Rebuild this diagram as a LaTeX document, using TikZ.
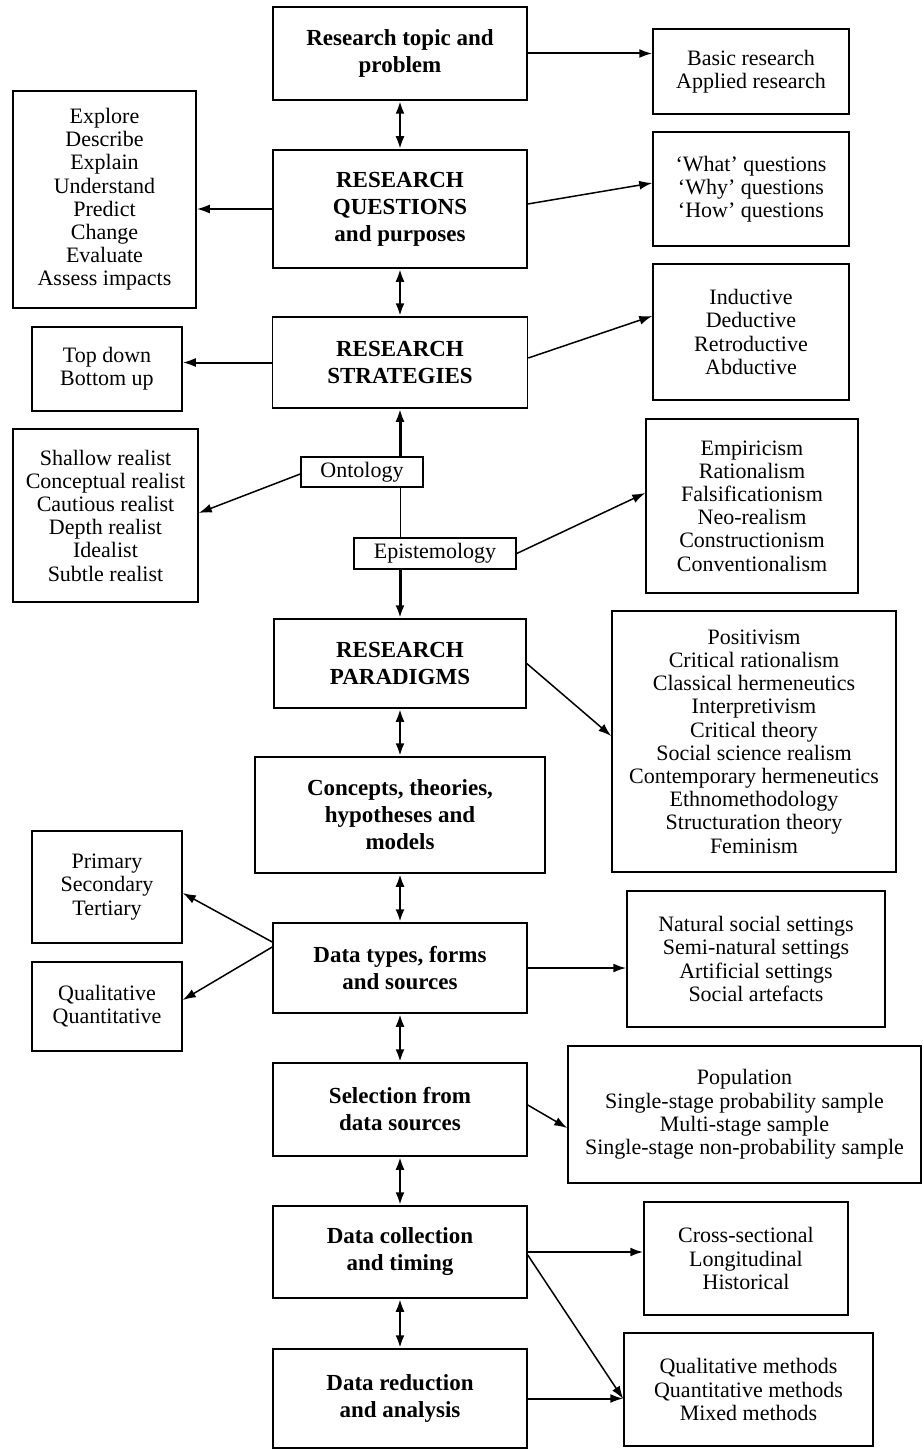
\documentclass[tikz,border=0pt]{standalone}
\usepackage{fontspec}
\setmainfont{Liberation Serif}
\usetikzlibrary{arrows.meta}

\begin{document}
\begin{tikzpicture}[x=1pt,y=-1pt,>={Latex[length=13pt,width=9pt]},
  box/.style={draw,line width=1.5pt,align=center,inner sep=3pt},
  mainbox/.style={box,font=\bfseries\fontsize{23}{27}\selectfont},
  sidebox/.style={box,font=\fontsize{22}{23.2}\selectfont},
  link/.style={->,line width=2pt},
  diag/.style={->,line width=1.5pt},
  both/.style={<->,line width=2.8pt}]
\useasboundingbox (0,0) rectangle (923,1450);

\node[mainbox,minimum width=254pt,minimum height=93pt] (topic) at (400,53.5) {Research topic and\\problem};
\node[mainbox,minimum width=254pt,minimum height=118pt] (quest) at (400,209) {RESEARCH\\QUESTIONS\\and purposes};
\node[mainbox,minimum width=255pt,minimum height=91pt] (strat) at (400,362.5) {RESEARCH\\STRATEGIES};
\node[sidebox,minimum width=122pt,minimum height=30pt,inner sep=1pt] (onto) at (362,472) {Ontology};
\node[sidebox,minimum width=162pt,minimum height=31pt,inner sep=1pt] (epis) at (435,553.5) {Epistemology};
\node[mainbox,minimum width=252pt,minimum height=89pt] (para) at (400,663.5) {RESEARCH\\PARADIGMS};
\node[mainbox,minimum width=290pt,minimum height=116pt] (conc) at (400,815) {Concepts, theories,\\hypotheses and\\models};
\node[mainbox,minimum width=254pt,minimum height=90pt] (types) at (400,968) {Data types, forms\\and sources};
\node[mainbox,minimum width=254pt,minimum height=93pt] (sel) at (400,1109.5) {Selection from\\data sources};
\node[mainbox,minimum width=254pt,minimum height=92pt] (coll) at (400,1252) {Data collection\\and timing};
\node[mainbox,minimum width=254pt,minimum height=99pt] (red) at (400,1398.5) {Data reduction\\and analysis};

\node[sidebox,minimum width=183pt,minimum height=217pt] (purp) at (104.5,199.5) {Explore\\Describe\\Explain\\Understand\\Predict\\Change\\Evaluate\\Assess impacts};
\node[sidebox,minimum width=150pt,minimum height=84pt] (topd) at (107,369) {Top down\\Bottom up};
\node[sidebox,minimum width=185pt,minimum height=173pt] (realist) at (105.5,515.5) {Shallow realist\\Conceptual realist\\Cautious realist\\Depth realist\\Idealist\\Subtle realist};
\node[sidebox,minimum width=150pt,minimum height=112pt] (prim) at (107,887) {Primary\\Secondary\\Tertiary};
\node[sidebox,minimum width=150pt,minimum height=89pt] (qual) at (107,1006.5) {Qualitative\\Quantitative};

\node[sidebox,minimum width=196pt,minimum height=85pt] (basic) at (751,71.5) {Basic research\\Applied research};
\node[sidebox,minimum width=196pt,minimum height=114pt] (whatq) at (751,189) {‘What’ questions\\‘Why’ questions\\‘How’ questions};
\node[sidebox,minimum width=196pt,minimum height=136pt] (induc) at (751,332) {Inductive\\Deductive\\Retroductive\\Abductive};
\node[sidebox,minimum width=212pt,minimum height=174pt] (empir) at (752,506) {Empiricism\\Rationalism\\Falsificationism\\Neo-realism\\Constructionism\\Conventionalism};
\node[sidebox,minimum width=284pt,minimum height=261pt] (posit) at (754,741.5) {Positivism\\Critical rationalism\\Classical hermeneutics\\Interpretivism\\Critical theory\\Social science realism\\Contemporary hermeneutics\\Ethnomethodology\\Structuration theory\\Feminism};
\node[sidebox,minimum width=258pt,minimum height=136pt] (settings) at (756,959) {Natural social settings\\Semi-natural settings\\Artificial settings\\Social artefacts};
\node[sidebox,minimum width=353pt,minimum height=137pt] (pop) at (744.5,1114.5) {Population\\Single-stage probability sample\\Multi-stage sample\\Single-stage non-probability sample};
\node[sidebox,minimum width=204pt,minimum height=113pt] (cross) at (746,1258.5) {Cross-sectional\\Longitudinal\\Historical};
\node[sidebox,minimum width=249pt,minimum height=113pt] (meth) at (748.5,1389.5) {Qualitative methods\\Quantitative methods\\Mixed methods};

\draw[both] (topic) -- (quest);
\draw[both] (quest) -- (strat);
\draw[->,line width=3pt] (strat.south |- onto.north) -- (strat.south);
\draw[line width=0.9pt] (strat.south |- onto.south) -- (strat.south |- epis.north);
\draw[->,line width=3pt] (para.north |- epis.south) -- (para.north);
\draw[both] (para) -- (conc);
\draw[both] (conc) -- (types);
\draw[both] (types) -- (sel);
\draw[both] (sel) -- (coll);
\draw[both] (coll) -- (red);

\draw[link] (topic.east) -- (topic.east -| basic.west);
\draw[link] (quest.west) -- (quest.west -| purp.east);
\draw[diag] ([yshift=5pt]quest.east) -- ([yshift=6pt]whatq.west);
\draw[link] (strat.west) -- (strat.west -| topd.east);
\draw[diag] ([yshift=4.5pt]strat.east) -- ([yshift=16pt]induc.west);
\draw[diag] ([yshift=-2pt]onto.west) -- ([yshift=2.5pt]realist.east);
\draw[diag] (epis.east) -- ([yshift=13pt]empir.west);
\draw[diag] (para.east) -- ([yshift=5.5pt]posit.west);
\draw[diag] ([yshift=26pt]types.west) -- ([yshift=-6pt]prim.east);
\draw[diag] ([yshift=21pt]types.west) -- ([yshift=6.5pt]qual.east);
\draw[link] (types.east) -- (types.east -| settings.west);
\draw[diag] ([yshift=4.5pt]sel.east) -- ([yshift=-13.5pt]pop.west);
\draw[link] (coll.east) -- (coll.east -| cross.west);
\draw[diag] ([yshift=-3pt]coll.east) -- ([yshift=-9.5pt]meth.west);
\draw[link] (red.east) -- (red.east -| meth.west);
\end{tikzpicture}
\end{document}
